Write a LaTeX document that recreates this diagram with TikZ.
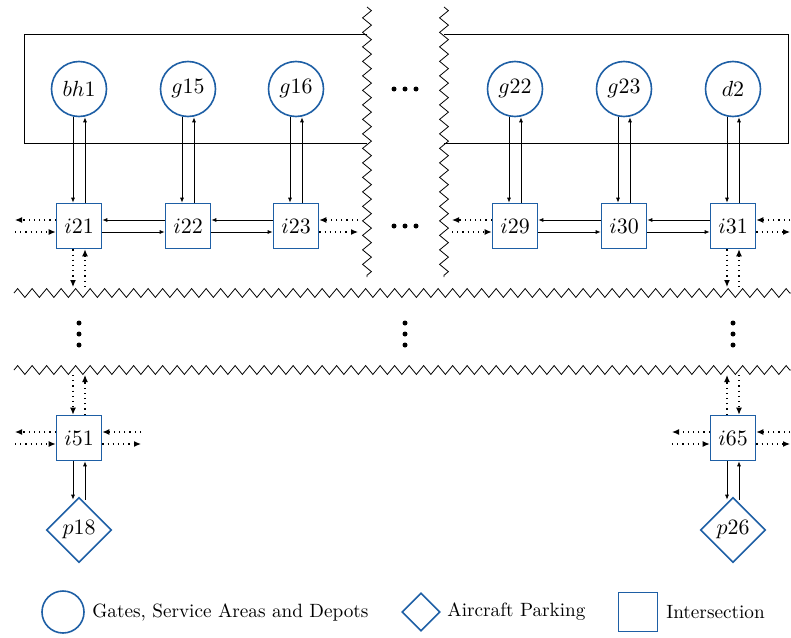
\documentclass[tikz,border=0pt]{standalone}
\usetikzlibrary{shapes.geometric,decorations.pathmorphing,arrows.meta}
\definecolor{nodeblue}{RGB}{30,95,165}

\begin{document}
\begin{tikzpicture}[x=0.5pt,y=-0.5pt,
  gate/.style={circle,draw=nodeblue,line width=0.8pt,minimum size=27.5pt,inner sep=0pt,font=\fontsize{11}{13}\selectfont},
  inter/.style={rectangle,draw=nodeblue,line width=0.8pt,minimum size=22.5pt,inner sep=0pt,font=\fontsize{11}{13}\selectfont},
  park/.style={diamond,draw=nodeblue,line width=0.8pt,minimum size=32.5pt,inner sep=0pt,font=\fontsize{11}{13}\selectfont},
  legtext/.style={anchor=west,inner sep=0pt,font=\fontsize{9.6}{11}\selectfont},
  link/.style={-{Latex[length=2.5pt,width=2pt]}},
  ext/.style={dotted,line width=0.6pt,-{Latex[length=3.5pt,width=3pt]}},
  cut/.style={decorate,decoration={zigzag,segment length=7.25pt,amplitude=2.2pt}}]

\useasboundingbox (0,0) rectangle (791,637);

\draw (367,34)--(24,34)--(24,143)--(367,143);%gate area left
\draw (444,34)--(788,34)--(788,143)--(444,143);%gate area right
\draw [cut] (367,7)--(367,277);
\draw [cut] (444,7)--(444,277);
\draw [cut] (14,293)--(791,293);
\draw [cut] (14,370)--(791,370);

\node[gate] (bh1) at (79,89) {$bh1$};
\node[gate] (g15) at (188,89) {$g15$};
\node[gate] (g16) at (296,89) {$g16$};
\node[gate] (g22) at (515,89) {$g22$};
\node[gate] (g23) at (624,89) {$g23$};
\node[gate] (d2) at (733,89) {$d2$};

\node[inter] (i21) at (79,226) {$i21$};
\node[inter] (i22) at (188,226) {$i22$};
\node[inter] (i23) at (296,226) {$i23$};
\node[inter] (i29) at (515,226) {$i29$};
\node[inter] (i30) at (624,226) {$i30$};
\node[inter] (i31) at (733,226) {$i31$};
\node[inter] (i51) at (79,438) {$i51$};
\node[inter] (i65) at (733,438) {$i65$};

\node[park] (p18) at (79,530) {$p18$};
\node[park] (p26) at (733,530) {$p26$};

% dots
\foreach \x in {394,405,416} {
  \fill (\x,89) circle (1.25pt);
  \fill (\x,226) circle (1.25pt);
}
\foreach \x in {79,405,733} {
  \foreach \y in {323,334,345} \fill (\x,\y) circle (1.25pt);
}

% gates <-> intersections
\foreach \g/\i in {bh1/i21,g15/i22,g16/i23,g22/i29,g23/i30,d2/i31} {
  \draw [link] ([xshift=-3pt]\g.south)--([xshift=-3pt]\i.north);
  \draw [link] ([xshift=3pt]\i.north)--([xshift=3pt]\g.south);
}

% intersections <-> intersections
\foreach \a/\b in {i21/i22,i22/i23,i29/i30,i30/i31} {
  \draw [link] ([yshift=3pt]\b.west)--([yshift=3pt]\a.east);
  \draw [link] ([yshift=-3pt]\a.east)--([yshift=-3pt]\b.west);
}

% parking
\draw [link] ([xshift=-3pt]i51.south)--([xshift=-3pt,yshift=-1.5pt]p18.north);
\draw [link] ([xshift=3pt,yshift=-1.5pt]p18.north)--([xshift=3pt]i51.south);
\draw [link] ([xshift=-3pt]i65.south)--([xshift=-3pt,yshift=-1.5pt]p26.north);
\draw [link] ([xshift=3pt,yshift=-1.5pt]p26.north)--([xshift=3pt]i65.south);

% links to the rest of the airport
\coordinate (i21w) at (15,226);
\coordinate (i21s) at (79,287);
\coordinate (i23e) at (358,226);
\coordinate (i29w) at (452,226);
\coordinate (i31e) at (790,226);
\coordinate (i31s) at (733,287);
\coordinate (i51n) at (79,375);
\coordinate (i51w) at (15,438);
\coordinate (i51e) at (141,438);
\coordinate (i65n) at (733,375);
\coordinate (i65w) at (672,438);
\coordinate (i65e) at (790,438);

\draw [ext] ([yshift=3pt]i21.west)--([yshift=3pt]i21w);
\draw [ext] ([yshift=-3pt]i21w)--([yshift=-3pt]i21.west);
\draw [ext] ([xshift=-3pt]i21.south)--([xshift=-3pt]i21s);
\draw [ext] ([xshift=3pt]i21s)--([xshift=3pt]i21.south);
\draw [ext] ([yshift=3pt]i23e)--([yshift=3pt]i23.east);
\draw [ext] ([yshift=-3pt]i23.east)--([yshift=-3pt]i23e);

\draw [ext] ([yshift=3pt]i29.west)--([yshift=3pt]i29w);
\draw [ext] ([yshift=-3pt]i29w)--([yshift=-3pt]i29.west);
\draw [ext] ([yshift=3pt]i31e)--([yshift=3pt]i31.east);
\draw [ext] ([yshift=-3pt]i31.east)--([yshift=-3pt]i31e);
\draw [ext] ([xshift=-3pt]i31.south)--([xshift=-3pt]i31s);
\draw [ext] ([xshift=3pt]i31s)--([xshift=3pt]i31.south);

\draw [ext] ([xshift=-3pt]i51n)--([xshift=-3pt]i51.north);
\draw [ext] ([xshift=3pt]i51.north)--([xshift=3pt]i51n);
\draw [ext] ([yshift=3pt]i51.west)--([yshift=3pt]i51w);
\draw [ext] ([yshift=-3pt]i51w)--([yshift=-3pt]i51.west);
\draw [ext] ([yshift=3pt]i51e)--([yshift=3pt]i51.east);
\draw [ext] ([yshift=-3pt]i51.east)--([yshift=-3pt]i51e);

\draw [ext] ([xshift=-3pt]i65.north)--([xshift=-3pt]i65n);
\draw [ext] ([xshift=3pt]i65n)--([xshift=3pt]i65.north);
\draw [ext] ([yshift=3pt]i65.west)--([yshift=3pt]i65w);
\draw [ext] ([yshift=-3pt]i65w)--([yshift=-3pt]i65.west);
\draw [ext] ([yshift=3pt]i65e)--([yshift=3pt]i65.east);
\draw [ext] ([yshift=-3pt]i65.east)--([yshift=-3pt]i65e);

% legend
\node[gate,minimum size=21pt] (lgate) at (63,612) {};
\node[legtext] (lgatetxt) at (92,612) {Gates, Service Areas and Depots};
\node[park,minimum size=19pt] (lpark) at (421,612) {};
\node[legtext] (lparktxt) at (447,612) {Aircraft Parking};
\node[inter,minimum size=19.5pt] (linter) at (638,612) {};
\node[legtext] (lintertxt) at (666,612) {Intersection};

\end{tikzpicture}
\end{document}
